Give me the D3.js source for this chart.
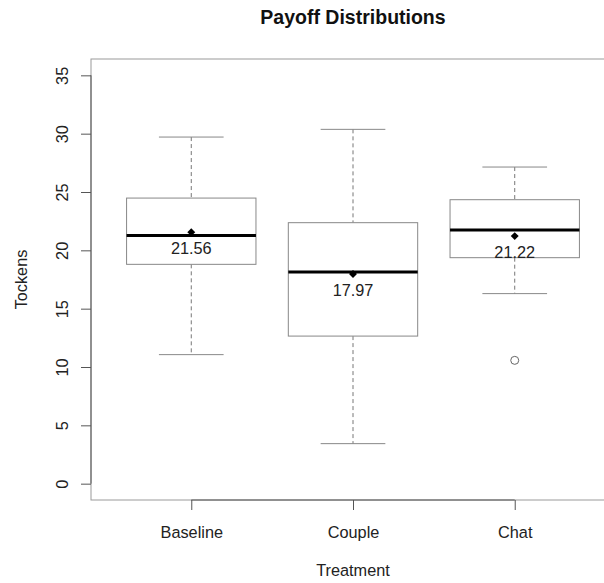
<!DOCTYPE html>
<html>
<head>
<meta charset="utf-8">
<script src="https://cdn.jsdelivr.net/npm/d3@7"></script>
<style>
  body { margin: 0; background: #fff; }
  svg { font-family: "Liberation Sans", Arial, Helvetica, sans-serif; }
</style>
</head>
<body>
<svg id="chart" width="604" height="583"></svg>
<script>
// box stats
const treatments = ["Baseline", "Couple", "Chat"];
const whiskerLow = [11.06, 3.43, 16.29];
const q1 = [18.8, 12.65, 19.37];
const medians = [21.28, 18.14, 21.74];
const q3 = [24.48, 22.37, 24.34];
const whiskerHigh = [29.71, 30.37, 27.14];
const means = [21.56, 17.97, 21.22];
const meanLabels = ["21.56", "17.97", "21.22"];
const outliers = [{ group: 2, value: 10.57 }];
const yTicks = [0, 5, 10, 15, 20, 25, 30, 35];

const svg = d3.select("#chart");
const plot = { left: 91, right: 615, top: 59, bottom: 500 };

// R style: 4% padding on both axes
const x = d3.scaleLinear().domain([0.38, 3.62]).range([plot.left, plot.right]);
const y = d3.scaleLinear().domain([-1.4, 36.4]).range([plot.bottom, plot.top]);

const boxHalf = 0.4;
const capHalf = 0.2;

// plot frame
svg.append("rect")
  .attr("x", plot.left).attr("y", plot.top)
  .attr("width", plot.right - plot.left).attr("height", plot.bottom - plot.top)
  .attr("fill", "none").attr("stroke", "#9a9a9a").attr("stroke-width", 1);

// y axis
const yAxis = d3.axisLeft(y).tickValues(yTicks).tickSize(10).tickFormat("");
const gy = svg.append("g")
  .attr("transform", `translate(${plot.left},0)`)
  .call(yAxis);
gy.select(".domain").remove();
gy.selectAll(".tick line").attr("stroke", "#555");
gy.append("line")
  .attr("x1", 0).attr("x2", 0)
  .attr("y1", y(yTicks[0])).attr("y2", y(yTicks[yTicks.length - 1]))
  .attr("stroke", "#555");
gy.selectAll(".tick")
  .append("text")
  .attr("transform", "translate(-23,0) rotate(-90)")
  .attr("text-anchor", "middle")
  .attr("fill", "#222")
  .style("font-size", "16.3px")
  .text((d) => d);

// x axis
const gx = svg.append("g")
  .attr("transform", `translate(0,${plot.bottom})`)
  .call(d3.axisBottom(x).tickValues([1, 2, 3]).tickSize(10).tickFormat(""));
gx.select(".domain").remove();
gx.selectAll(".tick line").attr("stroke", "#555");
gx.append("line")
  .attr("x1", x(1)).attr("x2", x(3))
  .attr("stroke", "#555");
gx.selectAll(".tick")
  .append("text")
  .attr("y", 38)
  .attr("text-anchor", "middle")
  .attr("fill", "#222")
  .style("font-size", "16.3px")
  .text((d) => treatments[d - 1]);

// boxes
const groups = svg.append("g").selectAll("g")
  .data(treatments)
  .join("g");

groups.append("line")
  .attr("x1", (d, i) => x(i + 1)).attr("x2", (d, i) => x(i + 1))
  .attr("y1", (d, i) => y(whiskerHigh[i])).attr("y2", (d, i) => y(q3[i]))
  .attr("stroke", "#777").attr("stroke-dasharray", "4,3");
groups.append("line")
  .attr("x1", (d, i) => x(i + 1)).attr("x2", (d, i) => x(i + 1))
  .attr("y1", (d, i) => y(q1[i])).attr("y2", (d, i) => y(whiskerLow[i]))
  .attr("stroke", "#777").attr("stroke-dasharray", "4,3");

groups.append("line")
  .attr("x1", (d, i) => x(i + 1 - capHalf)).attr("x2", (d, i) => x(i + 1 + capHalf))
  .attr("y1", (d, i) => y(whiskerHigh[i])).attr("y2", (d, i) => y(whiskerHigh[i]))
  .attr("stroke", "#888");
groups.append("line")
  .attr("x1", (d, i) => x(i + 1 - capHalf)).attr("x2", (d, i) => x(i + 1 + capHalf))
  .attr("y1", (d, i) => y(whiskerLow[i])).attr("y2", (d, i) => y(whiskerLow[i]))
  .attr("stroke", "#888");

groups.append("rect")
  .attr("x", (d, i) => x(i + 1 - boxHalf))
  .attr("width", (d, i) => x(i + 1 + boxHalf) - x(i + 1 - boxHalf))
  .attr("y", (d, i) => y(q3[i]))
  .attr("height", (d, i) => y(q1[i]) - y(q3[i]))
  .attr("fill", "#fff").attr("stroke", "#888");

groups.append("line")
  .attr("x1", (d, i) => x(i + 1 - boxHalf)).attr("x2", (d, i) => x(i + 1 + boxHalf))
  .attr("y1", (d, i) => y(medians[i])).attr("y2", (d, i) => y(medians[i]))
  .attr("stroke", "#000").attr("stroke-width", 3);

// mean marker (filled diamond) + label
groups.append("path")
  .attr("d", d3.symbol(d3.symbolDiamond2, 40))
  .attr("transform", (d, i) => `translate(${x(i + 1)},${y(means[i])})`)
  .attr("fill", "#000");
groups.append("text")
  .attr("x", (d, i) => x(i + 1))
  .attr("y", (d, i) => y(means[i]) + 21.5)
  .attr("text-anchor", "middle")
  .attr("fill", "#222")
  .style("font-size", "16.3px")
  .text((d, i) => meanLabels[i]);

// outliers
svg.append("g").selectAll("circle")
  .data(outliers)
  .join("circle")
  .attr("cx", (d) => x(d.group + 1))
  .attr("cy", (d) => y(d.value))
  .attr("r", 4)
  .attr("fill", "none").attr("stroke", "#666");

// titles
svg.append("text")
  .attr("x", (plot.left + plot.right) / 2).attr("y", 24)
  .attr("text-anchor", "middle")
  .style("font-size", "19.5px").style("font-weight", "bold")
  .attr("fill", "#111")
  .text("Payoff Distributions");
svg.append("text")
  .attr("x", (plot.left + plot.right) / 2).attr("y", 576)
  .attr("text-anchor", "middle")
  .style("font-size", "16.3px")
  .attr("fill", "#222")
  .text("Treatment");
svg.append("text")
  .attr("transform", `translate(27,${(plot.top + plot.bottom) / 2}) rotate(-90)`)
  .attr("text-anchor", "middle")
  .style("font-size", "16.3px")
  .attr("fill", "#222")
  .text("Tockens");
</script>
</body>
</html>
